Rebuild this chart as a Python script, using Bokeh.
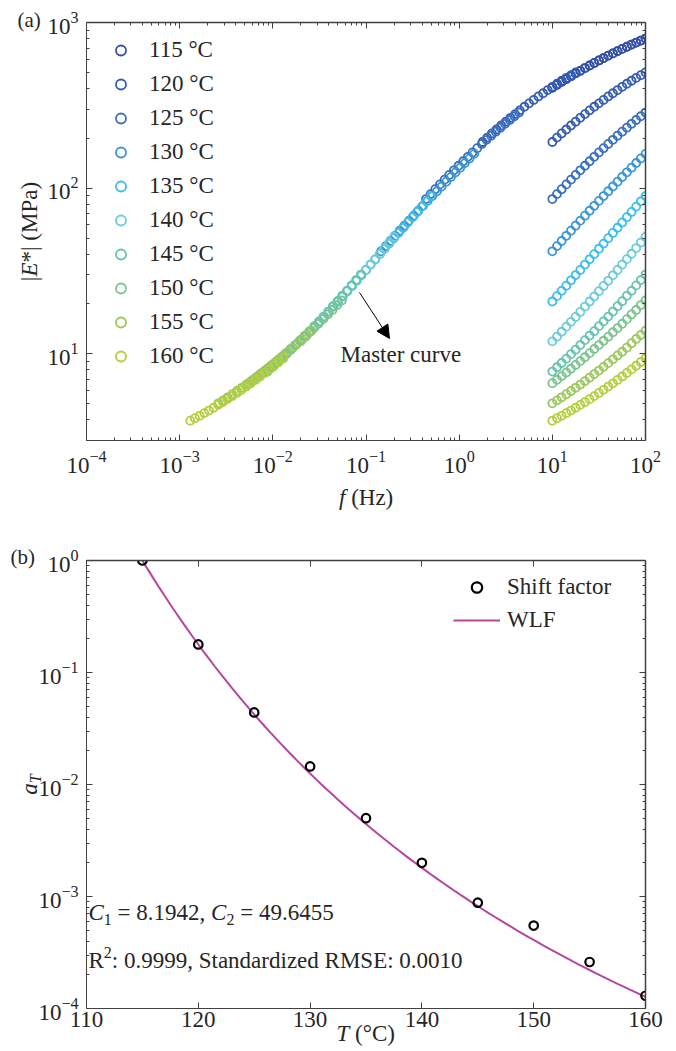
import math
import numpy as np
from bokeh.plotting import figure
from bokeh.layouts import column
from bokeh.models import (LogAxis, LinearAxis, Legend, LegendItem, Arrow, NormalHead,
                          FixedTicker, SingleIntervalTicker)
from bokeh.core.properties import value
from bokeh.embed import file_html
from bokeh.resources import INLINE

# ---------------- data ----------------
temps = [115, 120, 125, 130, 135, 140, 145, 150, 155, 160]
temp_labels = ["115 °C", "120 °C", "125 °C", "130 °C", "135 °C",
               "140 °C", "145 °C", "150 °C", "155 °C", "160 °C"]
colors = ["#3451A5", "#335DB2", "#3870BF", "#3B95D6", "#3DBDEB",
          "#6ECBD8", "#66C4AE", "#7CC48F", "#9BC75C", "#B2CF3B"]

freq = [10.0, 11.22, 12.59, 14.13, 15.85, 17.78, 19.95, 22.39, 25.12, 28.18,
        31.62, 35.48, 39.81, 44.67, 50.12, 56.23, 63.10, 70.79, 79.43, 89.13, 100.0]

E_115 = [404, 421, 438, 456, 474, 493, 511, 531, 550, 570, 590, 610, 631, 651, 672, 693, 714, 736, 757, 778, 800]
E_120 = [190, 202, 214, 226, 239, 252, 266, 280, 295, 310, 325, 341, 358, 374, 391, 409, 427, 445, 463, 481, 500]
E_125 = [86.0, 92.1, 98.6, 105.4, 112.6, 120.2, 128.2, 136.6, 145.4, 154.6, 164.3, 174.4, 184.9, 195.9, 207.4, 219.3, 231.7, 244.6, 257.9, 271.8, 286.1]
E_130 = [41.6, 44.7, 48.0, 51.6, 55.4, 59.4, 63.7, 68.2, 73.1, 78.3, 83.8, 89.6, 95.8, 102.4, 109.4, 116.8, 124.7, 133.0, 141.9, 151.2, 161.1]
E_135 = [20.7, 22.3, 24.0, 25.8, 27.8, 29.9, 32.1, 34.6, 37.2, 40.0, 43.1, 46.3, 49.9, 53.7, 57.7, 62.1, 66.8, 71.9, 77.4, 83.3, 89.6]
E_140 = [11.9, 12.7, 13.6, 14.6, 15.6, 16.7, 17.9, 19.3, 20.7, 22.2, 23.9, 25.7, 27.6, 29.8, 32.1, 34.6, 37.3, 40.2, 43.5, 47.0, 50.8]
E_145 = [7.82, 8.30, 8.81, 9.36, 9.96, 10.6, 11.3, 12.1, 12.9, 13.7, 14.7, 15.7, 16.8, 18.0, 19.4, 20.8, 22.4, 24.0, 25.9, 27.9, 30.1]
E_150 = [6.65, 6.98, 7.34, 7.72, 8.13, 8.57, 9.04, 9.54, 10.1, 10.7, 11.3, 12.0, 12.7, 13.5, 14.3, 15.2, 16.2, 17.3, 18.4, 19.7, 21.0]
E_155 = [5.03, 5.24, 5.47, 5.71, 5.97, 6.24, 6.53, 6.85, 7.18, 7.55, 7.93, 8.35, 8.79, 9.27, 9.78, 10.3, 10.9, 11.6, 12.3, 13.0, 13.8]
E_160 = [3.95, 4.09, 4.23, 4.39, 4.55, 4.73, 4.92, 5.12, 5.33, 5.56, 5.81, 6.07, 6.35, 6.64, 6.96, 7.30, 7.67, 8.06, 8.48, 8.93, 9.41]
E_all = [E_115, E_120, E_125, E_130, E_135, E_140, E_145, E_150, E_155, E_160]

# shift factors a_T (panel b)
aT = [1.0, 0.178, 0.044, 0.0145, 0.0050, 0.0020, 0.00088, 0.00055, 0.00026, 0.00013]
C1 = 8.1942
C2 = 49.6455
T_ref = 115
R2_text = "0.9999"
RMSE_text = "0.0010"

# ---------------- style helpers ----------------
FONT = "Liberation Serif"
TXT = "#262626"
AX = "#404040"

W = {' ': 250, '0': 500, '1': 500, '2': 500, '3': 500, '4': 500, '5': 500, '6': 500, '7': 500,
     '8': 500, '9': 500, '.': 250, ',': 250, '=': 564, ':': 278, '(': 333, ')': 333, '|': 200,
     '*': 500, '°': 400, 'C': 667, 'E': 611, 'H': 722, 'M': 889, 'P': 556, 'R': 667, 'S': 556,
     'T': 611, 'a': 444, 'd': 500, 'e': 444, 'i': 278, 'n': 500, 'r': 333, 't': 278, 'z': 444,
     'f': 333, 'u': 500, 'v': 500, 'c': 444, 's': 389}
WI = {'C': 667, 'E': 611, 'T': 556, 'f': 278, 'a': 500}


def tw(s, size, italic=False):
    tab = WI if italic else W
    return sum(tab.get(ch, W.get(ch, 500)) for ch in s) * size / 1000.0


def style_axis(ax, standoff=8, show_labels=True, color=AX, width=1.0):
    ax.axis_line_color = color
    ax.axis_line_width = width
    ax.major_tick_line_color = color
    ax.minor_tick_line_color = color
    ax.major_tick_line_width = 1
    ax.minor_tick_line_width = 1
    ax.major_tick_in = 6
    ax.major_tick_out = 0
    ax.minor_tick_in = 3
    ax.minor_tick_out = 0
    ax.major_label_text_font = FONT
    if show_labels:
        ax.major_label_text_color = TXT
        ax.major_label_text_font_size = "23px"
        ax.major_label_standoff = standoff
    else:
        ax.major_label_text_color = None
        ax.major_label_text_font_size = "1px"
        ax.major_label_standoff = 0


def log_ticker(kmin, kmax):
    return FixedTicker(ticks=[10.0 ** k for k in range(kmin, kmax + 1)],
                       minor_ticks=[m * 10.0 ** k for k in range(kmin - 1, kmax + 1) for m in range(2, 10)])


def make_label(p, conv, px, py, text, size=23, italic=False, align="left", angle=0.0):
    x, y = conv(px, py)
    p.text(x=[x], y=[y], text=[text], text_font=value(FONT),
           text_font_size=value(f"{size}px"),
           text_font_style="italic" if italic else "normal",
           text_align=align, text_baseline="middle", angle=angle,
           text_color=TXT, level="overlay")


def seq_h(p, conv, x0, y0, parts):
    x = x0
    for text, size, italic, dy in parts:
        lead = len(text) - len(text.lstrip(' '))
        x += lead * 250 * size / 1000.0
        body = text.strip(' ')
        make_label(p, conv, x, y0 + dy, body, size=size, italic=italic)
        x += tw(body, size, italic)
        trail = len(text) - len(text.rstrip(' '))
        x += trail * 250 * size / 1000.0


def seq_v(p, conv, xc, y0, parts):
    y = y0
    for text, size, italic, dx in parts:
        lead = len(text) - len(text.lstrip(' '))
        y -= lead * 250 * size / 1000.0
        body = text.strip(' ')
        make_label(p, conv, xc + dx, y, body, size=size, italic=italic, angle=math.pi / 2)
        y -= tw(body, size, italic)


# ---------------- geometry (page pixels) ----------------
PW = 676
L, R = 86, 645
H1 = 528
T1, B1 = 22, 440
H2 = 1051 - H1
T2, B2 = 560, 1008
ylo1 = 3.0


def conv1(px, py):
    x = 10 ** (-4 + (px - L) / (R - L) * 6)
    y = 10 ** (math.log10(ylo1) + (B1 - py) / (B1 - T1) * (3 - math.log10(ylo1)))
    return x, y


def conv2(px, py):
    x = 110 + (px - L) / (R - L) * 50
    y = 10 ** (-4 + (B2 - py) / (B2 - T2) * 4)
    return x, y


# ---------------- panel (a) ----------------
p1 = figure(width=PW, height=H1, x_axis_type="log", y_axis_type="log",
            x_range=(1e-4, 1e2), y_range=(ylo1, 1e3),
            output_backend="svg", toolbar_location=None,
            min_border_left=L, min_border_right=PW - R,
            min_border_top=T1, min_border_bottom=H1 - B1,
            outline_line_color=None)
p1.grid.visible = False
p1.xaxis.ticker = log_ticker(-4, 2)
p1.yaxis.ticker = log_ticker(1, 3)
style_axis(p1.xaxis[0], standoff=10)
style_axis(p1.yaxis[0], standoff=8)
ax_top1 = LogAxis(ticker=log_ticker(-4, 2))
style_axis(ax_top1, show_labels=False, width=1.5)
p1.add_layout(ax_top1, "above")
ax_right1 = LogAxis(ticker=log_ticker(1, 3))
style_axis(ax_right1, show_labels=False, width=1.5)
p1.add_layout(ax_right1, "right")

items = []
for T, lab, col, E, a in zip(temps, temp_labels, colors, E_all, aT):
    r_raw = p1.scatter(freq, E, marker="circle", size=8, fill_color=None,
                       line_color=col, line_width=1.8)
    shifted = [f * a for f in freq]
    p1.scatter(shifted, E, marker="circle", size=8, fill_color=None,
               line_color=col, line_width=1.8)
    items.append(LegendItem(label=lab, renderers=[r_raw]))

leg1 = Legend(items=items, location=(22, 71), orientation="vertical",
              label_text_font=FONT, label_text_font_size="23px", label_text_color=TXT,
              glyph_width=25, glyph_height=26, label_height=26, label_standoff=16,
              spacing=8, padding=0, margin=0, border_line_color=None,
              background_fill_alpha=0)
p1.add_layout(leg1)

xs, ys = conv1(359, 292)
xe, ye = conv1(389, 338)
p1.add_layout(Arrow(end=NormalHead(size=13, fill_color="black", line_color="black", line_width=1),
                    x_start=xs, y_start=ys, x_end=xe, y_end=ye,
                    line_color="black", line_width=1))
make_label(p1, conv1, 340, 354, "Master curve", size=23)

seq_h(p1, conv1, 338.5, 497, [("f", 23, True, 0), (" (Hz)", 23, False, 0)])
ylab = [("|", 23, False, 0), ("E", 23, True, 0), ("*| (MPa)", 23, False, 0)]
ylen = sum(tw(t, s, i) for t, s, i, _ in ylab)
seq_v(p1, conv1, 29, (T1 + B1) / 2 + ylen / 2, ylab)
make_label(p1, conv1, 17, 19.5, "(a)", size=21)

# ---------------- panel (b) ----------------
p2 = figure(width=PW, height=H2, y_axis_type="log",
            x_range=(110, 160), y_range=(1e-4, 1.0),
            output_backend="svg", toolbar_location=None,
            min_border_left=L, min_border_right=PW - R,
            min_border_top=T2 - H1, min_border_bottom=1051 - B2,
            outline_line_color=None)
p2.grid.visible = False
p2.xaxis.ticker = SingleIntervalTicker(interval=10, num_minor_ticks=0)
p2.yaxis.ticker = log_ticker(-4, 0)
style_axis(p2.xaxis[0], standoff=3)
style_axis(p2.yaxis[0], standoff=8)
p2.xaxis[0].minor_tick_line_color = None
ax_top2 = LinearAxis(ticker=SingleIntervalTicker(interval=10, num_minor_ticks=0))
style_axis(ax_top2, show_labels=False, width=1.5)
ax_top2.minor_tick_line_color = None
p2.add_layout(ax_top2, "above")
ax_right2 = LogAxis(ticker=log_ticker(-4, 0))
style_axis(ax_right2, show_labels=False, width=1.5)
p2.add_layout(ax_right2, "right")

wlf_T = np.linspace(T_ref, 160, 91)
wlf_a = 10 ** (-C1 * (wlf_T - T_ref) / (C2 + wlf_T - T_ref))
r_line = p2.line(wlf_T, wlf_a, line_color="#B5479E", line_width=2)
r_pts = p2.scatter(temps, aT, marker="circle", size=8.5, fill_color=None,
                   line_color="black", line_width=2.2)

leg2 = Legend(items=[LegendItem(label="Shift factor", renderers=[r_pts]),
                     LegendItem(label="WLF", renderers=[r_line])],
              location=(367, 375), orientation="vertical",
              label_text_font=FONT, label_text_font_size="23px", label_text_color=TXT,
              glyph_width=47, glyph_height=26, label_height=26, label_standoff=7,
              spacing=7, padding=0, margin=0, border_line_color=None,
              background_fill_alpha=0)
p2.add_layout(leg2)

seq_h(p2, conv2, 88, 912, [("C", 23, True, 0), ("1", 16, False, 7),
                           (f" = {C1:.4f}, ", 23, False, 0),
                           ("C", 23, True, 0), ("2", 16, False, 7),
                           (f" = {C2:.4f}", 23, False, 0)])
seq_h(p2, conv2, 88, 960, [("R", 23, False, 0), ("2", 16, False, -8),
                           (f": {R2_text}, Standardized RMSE: {RMSE_text}", 23, False, 0)])

seq_h(p2, conv2, 336, 1033, [("T", 23, True, 0), (" (°C)", 23, False, 0)])
alab = [("a", 23, True, 0), ("T", 16, True, 6)]
alen = sum(tw(t, s, i) for t, s, i, _ in alab)
seq_v(p2, conv2, 29, (T2 + B2) / 2 + alen / 2, alab)
make_label(p2, conv2, 10, 556, "(b)", size=21)

layout = column(p1, p2)
open("out.html", "w").write(file_html(layout, INLINE))
